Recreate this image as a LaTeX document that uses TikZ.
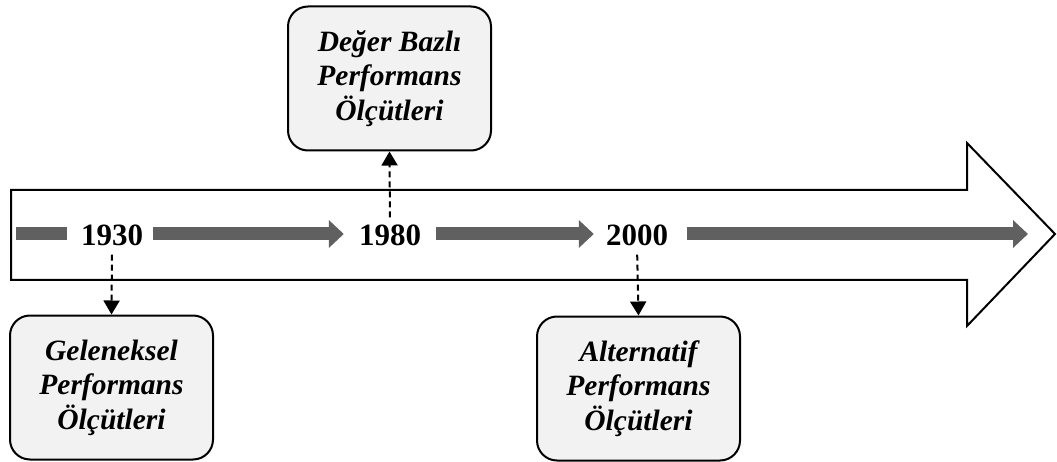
\documentclass[tikz,border=0pt]{standalone}
\usepackage{fontspec}
\setmainfont{Liberation Serif}
\usetikzlibrary{arrows.meta}
\definecolor{boxfill}{HTML}{F2F2F2}
\definecolor{bargray}{HTML}{606060}
\tikzset{
  yearlbl/.style={inner sep=0pt, font=\fontsize{31}{34}\selectfont\bfseries},
  eventbox/.style={draw=black, line width=2pt, fill=boxfill, rounded corners=20pt,
    minimum width=203pt, minimum height=144pt, align=center,
    font=\fontsize{29.5}{34.5}\selectfont\bfseries\itshape},
  bar/.style={draw=bargray, line width=13pt},
  bararrow/.style={bar, -{Triangle[length=15pt,width=27pt]}},
  dasharrow/.style={draw=black, line width=2pt, dash pattern=on 6pt off 4pt,
    -{Triangle[length=14pt,width=16pt]}}
}
\begin{document}
\begin{tikzpicture}[x=1pt,y=-1pt]
\useasboundingbox (0,0) rectangle (1057,462);
% big outlined arrow
\draw[line width=2pt, line join=miter] (11,190) -- (967,190) -- (967,143) -- (1055,234)
  -- (967,326) -- (967,280) -- (11,280) -- cycle;
% year labels
\node[yearlbl] (y1930) at (112,235) {1930};
\node[yearlbl] (y1980) at (390,235) {1980};
\node[yearlbl] (y2000) at (637,235) {2000};
\coordinate (start) at (16,234);
\coordinate (finish) at (1028,234);
% gray bars
\draw[bar, shorten >=14pt] (start) -- (start -| y1930.west);
\draw[bararrow, shorten <=10pt, shorten >=15pt] (y1930.east |- start) -- (y1980.west |- start);
\draw[bararrow, shorten <=15pt, shorten >=12pt] (y1980.east |- start) -- (y2000.west |- start);
\draw[bararrow, shorten <=19pt] (y2000.east |- start) -- (finish);
% boxes
\node[eventbox] (b1980) at (389.5,78.5) {Değer Bazlı\\Performans\\Ölçütleri};
\node[eventbox] (b1930) at (111.5,387.5) {Geleneksel\\Performans\\Ölçütleri};
\node[eventbox] (b2000) at (638.5,388.5) {Alternatif\\Performans\\Ölçütleri};
% dashed connectors
\draw[dasharrow, shorten <=9pt] (y1930.south) -- (b1930.north);
\draw[dasharrow, shorten <=7pt] (y1980.north) -- (b1980.south);
\draw[dasharrow, shorten <=9pt] (y2000.south) -- (b2000.north);
\end{tikzpicture}
\end{document}
